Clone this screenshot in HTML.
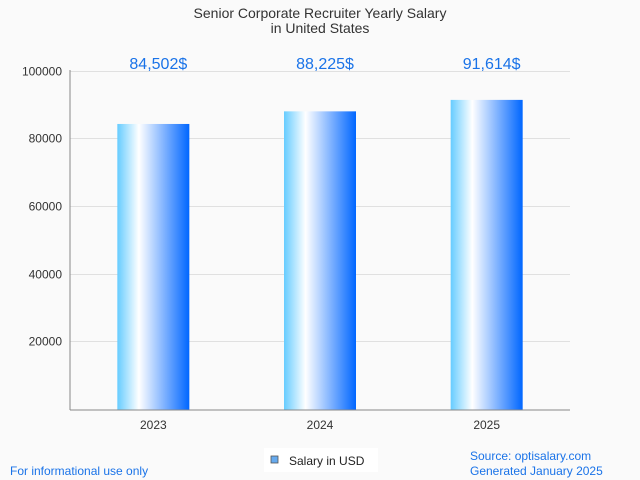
<!DOCTYPE html>
<html><head><meta charset="utf-8"><style>
body{margin:0;background:#fafafa;}
svg{display:block;font-family:"Liberation Sans",sans-serif;}
</style></head><body>
<svg id="c" width="640" height="480">
<defs><linearGradient id="g" x1="0" x2="1" y1="0" y2="0">
<stop offset="0" stop-color="#66ccff"/><stop offset="0.3" stop-color="#ffffff"/><stop offset="1" stop-color="#0066ff"/>
</linearGradient></defs>
<text x="320" y="18" text-anchor="middle" font-size="14" fill="#333">Senior Corporate Recruiter Yearly Salary</text>
<text x="320" y="33" text-anchor="middle" font-size="14" fill="#333">in United States</text>
<g id="grid"></g><g id="bars"></g>
<line x1="70" y1="410" x2="570" y2="410" stroke="#888"/>
<line x1="70" y1="70" x2="70" y2="410" stroke="#888"/>
<g>
<rect x="264" y="448" width="114" height="24" fill="#fff"/>
<rect x="271" y="456" width="7" height="7" fill="#66aaee" stroke="#555" stroke-width="0.8"/>
<text x="289" y="465" font-size="12" fill="#222">Salary in USD</text>
</g>
<text x="10" y="475" font-size="12" fill="#1a73e8">For informational use only</text>
<text x="470" y="460" font-size="12" fill="#1a73e8">Source: optisalary.com</text>
<text x="470" y="475" font-size="12" fill="#1a73e8">Generated January 2025</text>
</svg>
<script>
const categories=["2023","2024","2025"];
const values=[84502,88225,91614];
const valueLabels=["84,502$","88,225$","91,614$"];
const yTicks=[20000,40000,60000,80000,100000];
const NS="http://www.w3.org/2000/svg";
const x0=70,x1=570,yTop=71.5,yBot=410,yMax=100000;
const y=v=>yBot-(v/yMax)*(yBot-yTop);
const band=(x1-x0)/categories.length;
const xc=i=>x0+band*(i+0.5);
function mk(t,a,p){const e=document.createElementNS(NS,t);for(const k in a)e.setAttribute(k,a[k]);p.appendChild(e);return e;}
const grid=document.getElementById('grid'),bars=document.getElementById('bars');
yTicks.forEach(v=>{
 const gy=Math.round(y(v))-0.5;
 const l=mk('line',{x1:x0,x2:x1,y1:gy,y2:gy,stroke:'#e0e0e0'},grid);
 
 
 const t=mk('text',{x:62,y:gy+4,'text-anchor':'end','font-size':12,fill:'#333'},grid);
 t.textContent=v;
 
 
});
categories.forEach((c,i)=>{
 const r=mk('rect',{x:xc(i)-36,y:y(values[i]),width:72,height:yBot-y(values[i]),fill:'url(#g)'},bars);
 
 
 const t=mk('text',{x:xc(i)+5,y:69,'text-anchor':'middle','font-size':16,fill:'#1a73e8'},bars);
 t.textContent=valueLabels[i];
 
 
 const xl=mk('text',{x:xc(i),y:429,'text-anchor':'middle','font-size':12,fill:'#333'},bars);
 xl.textContent=c;
 
 
});
</script>
</body></html>
